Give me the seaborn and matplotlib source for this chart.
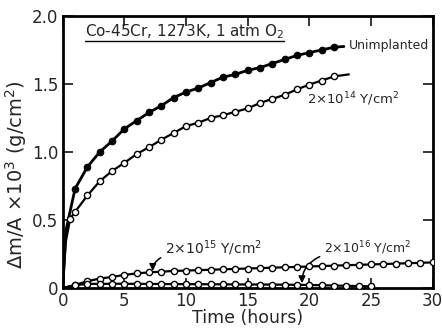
import matplotlib
matplotlib.use("Agg")
import matplotlib.pyplot as plt
import seaborn as sns

# Oxidation kinetics of Co-45Cr at 1273 K in 1 atm O2
t_unimp = [1, 2, 3, 4, 5, 6, 7, 8, 9, 10, 11, 12, 13, 14, 15, 16, 17, 18, 19, 20, 21, 22]
w_unimp = [0.73, 0.89, 1.00, 1.08, 1.17, 1.23, 1.29, 1.34, 1.40, 1.44, 1.47, 1.51,
           1.55, 1.57, 1.60, 1.62, 1.65, 1.68, 1.71, 1.73, 1.75, 1.77]

t_14 = [0.6, 1, 2, 3, 4, 5, 6, 7, 8, 9, 10, 11, 12, 13, 14, 15, 16, 17, 18, 19, 20, 21, 22]
w_14 = [0.51, 0.56, 0.68, 0.785, 0.86, 0.92, 0.985, 1.035, 1.09, 1.14, 1.19, 1.215,
        1.25, 1.27, 1.295, 1.32, 1.36, 1.39, 1.42, 1.46, 1.495, 1.525, 1.555]

t_15 = list(range(1, 31))
w_15 = [0.022, 0.050, 0.069, 0.081, 0.096, 0.107, 0.115, 0.120, 0.125, 0.128,
        0.131, 0.134, 0.137, 0.140, 0.143, 0.146, 0.149, 0.152, 0.155, 0.158,
        0.161, 0.164, 0.167, 0.170, 0.173, 0.176, 0.179, 0.182, 0.185, 0.188]

t_16 = list(range(1, 26))
w_16 = [0.020, 0.030, 0.030, 0.031, 0.031, 0.030, 0.030, 0.029, 0.029, 0.028,
        0.028, 0.027, 0.027, 0.026, 0.026, 0.025, 0.025, 0.024, 0.023, 0.022,
        0.020, 0.018, 0.016, 0.014, 0.012]

# smooth fitted curves: start at the origin and run slightly beyond the data
curve_unimp_t = [0, 0.25] + t_unimp + [22.8]
curve_unimp_w = [0, 0.42] + w_unimp + [1.775]
curve_14_t = [0, 0.25] + t_14 + [23.2]
curve_14_w = [0, 0.34] + w_14 + [1.57]
curve_15_t = [0] + t_15
curve_15_w = [0] + w_15
curve_16_t = [0] + t_16
curve_16_w = [0] + w_16

x_ticks = [0, 5, 10, 15, 20, 25, 30]
y_ticks = [0, 0.5, 1.0, 1.5, 2.0]
y_tick_labels = ["0", "0.5", "1.0", "1.5", "2.0"]

sns.set_style("ticks")
plt.rcParams["font.family"] = ["DejaVu Sans"]
plt.rcParams["font.size"] = 11

fig = plt.figure(figsize=(4.42, 3.31), dpi=100)
ax = fig.add_axes([0.142, 0.130, 0.837, 0.822])

curves = [
    (curve_unimp_t, curve_unimp_w, 2.0),
    (curve_14_t, curve_14_w, 1.6),
    (curve_15_t, curve_15_w, 1.6),
    (curve_16_t, curve_16_w, 1.6),
]
for ct, cw, lw in curves:
    sns.lineplot(x=ct, y=cw, ax=ax, color="black", linewidth=lw,
                 estimator=None, sort=False)

sns.scatterplot(x=t_unimp, y=w_unimp, ax=ax, color="black", s=22,
                edgecolor="black", linewidth=0.8, zorder=5)
for tt, ww in [(t_14, w_14), (t_15, w_15), (t_16, w_16)]:
    sns.scatterplot(x=tt, y=ww, ax=ax, color="white", s=20,
                    edgecolor="black", linewidth=1.0, zorder=5)

ax.set_xlim(0, 30)
ax.set_ylim(0, 2.0)
ax.set_xticks(x_ticks)
ax.set_xticklabels([str(v) for v in x_ticks])
ax.set_yticks(y_ticks)
ax.set_yticklabels(y_tick_labels)
ax.tick_params(direction="in", length=7, width=1.3, top=True, right=True,
               labelsize=12, pad=3)
for sp in ax.spines.values():
    sp.set_visible(True)
    sp.set_linewidth(2.0)
    sp.set_color("black")

ax.set_xlabel("Time (hours)", fontsize=12.5)
ax.xaxis.set_label_coords(0.5, -0.078)
ax.set_ylabel(r"$\Delta$m/A $\times$10$^3$ (g/cm$^2$)", fontsize=14)
ax.yaxis.set_label_coords(-0.092, 0.415)

ax.text(1.8, 1.885, r"Co-45Cr, 1273K, 1 atm O$_2$", fontsize=11,
        ha="left", va="center")
ax.plot([1.8, 17.9], [1.815, 1.815], color="black", linewidth=1.0)

ax.text(23.2, 1.78, "Unimplanted", fontsize=9, ha="left", va="center")
ax.text(19.8, 1.385, r"2$\times$10$^{14}$ Y/cm$^2$", fontsize=9.5,
        ha="left", va="center")

ax.annotate(r"2$\times$10$^{15}$ Y/cm$^2$", xy=(7.3, 0.125), xytext=(8.3, 0.29),
            fontsize=10, ha="left", va="center",
            arrowprops=dict(arrowstyle="-|>", color="black", lw=1.1,
                            shrinkA=1, shrinkB=0, mutation_scale=10,
                            connectionstyle="angle3,angleA=180,angleB=90"))
ax.annotate(r"2$\times$10$^{16}$ Y/cm$^2$", xy=(19.4, 0.035), xytext=(21.2, 0.29),
            fontsize=9, ha="left", va="center",
            arrowprops=dict(arrowstyle="-|>", color="black", lw=1.1,
                            shrinkA=1, shrinkB=0, mutation_scale=10,
                            connectionstyle="angle3,angleA=180,angleB=90"))

fig.savefig("out.png", dpi=100)
